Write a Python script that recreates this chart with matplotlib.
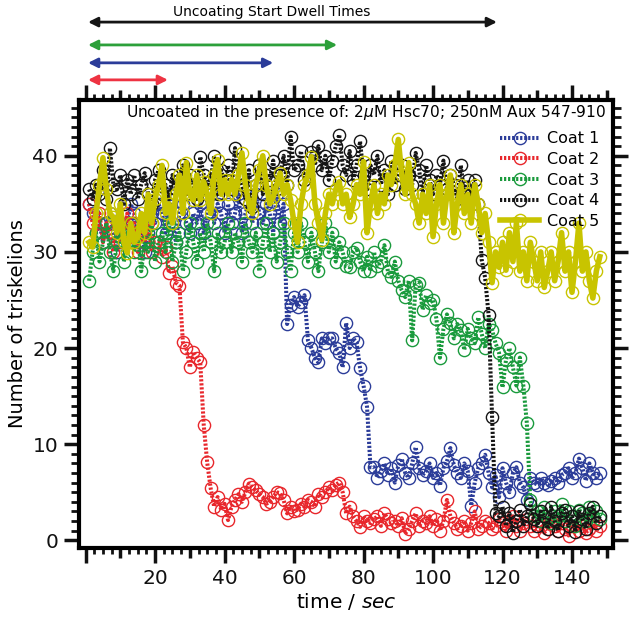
import matplotlib
matplotlib.use("Agg")
import numpy as np
import matplotlib.pyplot as plt
from matplotlib.ticker import MultipleLocator, FuncFormatter

# ---- data (1 s frames) ----
time_s = np.arange(1, 149)

coat1 = [35, 34, 32, 33, 31, 33, 34, 32, 30, 33,
         31, 33, 35, 34, 32, 33, 30, 32, 34, 33,
         35, 34, 32, 36, 33, 31, 34, 35, 33, 32,
         34, 33, 35, 32, 34, 36, 33, 35, 34, 32,
         35, 33, 34, 36, 32, 34, 35, 33, 36, 34,
         33, 35, 34, 32, 36, 33, 35,
         22.5, 24.5, 25.3, 24.3, 24.8, 25.5,
         20.8, 20, 19, 18.5, 21, 20.5, 21, 21, 20, 19.5,
         18, 22.6, 20, 21, 20.6, 17.9, 16.1, 13.9, 7.6,
         7.6, 6.5, 7.2, 8, 6.8, 7.5, 6, 7.8, 8.5, 7,
         6.5, 8, 9.7, 7.5, 6.8, 7.2, 8, 6.5, 7, 5.7,
         7.5, 8.2, 9.6, 7.8, 7, 6.5, 8, 7.2, 3.6, 6,
         7.5, 8, 8.9, 7, 5.5, 6.8, 4.5, 7.5, 6, 5,
         7, 7.6, 6, 5.5, 4.2, 6.5, 6, 5.8, 6.5, 6,
         5.8, 6.2, 6.5, 6, 6.8, 7, 7.5, 6.5, 7, 8.5,
         7.5, 6.2, 8, 7, 6.5, 7]

coat2 = [35, 33, 32, 34, 31, 33, 32, 30, 33, 31,
         32, 34, 31, 33, 30, 32, 31, 33, 30, 31,
         31, 29.5, 30.5, 27.8, 28.5, 26.8, 26.5,
         20.6, 20, 18, 19.6, 19, 18.5, 12, 8.1, 5.4, 3.5,
         4.5, 3.2, 3.8, 2.1, 3.5, 4.2, 4.8, 4, 5, 5.9,
         5.5, 5.2, 4.8, 4.5, 3.8, 4, 4.5, 5, 4.9, 4.2,
         2.8, 3.5, 3, 3.2, 3.8, 3.5, 4.2, 4, 3.5, 4.8,
         4.5, 5, 5.5, 5.2, 5.8, 6, 5, 2.8, 3.5, 2.5,
         2, 1.4, 2.5, 2, 1.8, 2.2, 2.5, 1.5, 2.8, 2.2,
         1.8, 2, 1.5, 2.3, 0.7, 1.2, 2, 2.8, 1.5, 2,
         1.8, 2.5, 1.5, 2.2, 1, 2, 4.2, 2.5, 1.8, 1.2,
         1.5, 2, 1, 1.8, 3, 1.2, 1.5, 2, 1.8, 1.2,
         1.5, 2.2, 1.8, 1, 2, 2.5, 1.5, 1, 1.8, 2.2,
         1.5, 1, 2, 1.5, 0.8, 1.2, 2, 1.5, 1, 1.8,
         1.2, 0.5, 1.5, 2, 1, 1.5, 0.8, 1.2, 2, 1, 1.5]

coat3 = [27, 30, 32, 29, 31, 33, 30, 28, 31, 32,
         29, 31, 33, 30, 32, 28, 31, 30, 33, 29,
         31, 32, 30, 33, 29, 31, 32, 28, 30, 33,
         31, 29, 32, 30, 33, 31, 28, 32, 30, 31,
         33, 30, 32, 31, 29, 33, 31, 30, 32, 28,
         31, 33, 30, 32, 29, 31, 33, 30, 28, 32,
         30, 33, 31, 29, 32, 30, 28, 31, 33, 30,
         32, 29, 31, 30, 28.5, 28.4, 30, 30.4, 29, 28,
         29.5, 28, 30, 28.5, 29, 30.7, 28, 27.4, 29, 27,
         26, 25.3, 27, 20.8, 26.6, 26.8, 24, 25.5, 24.7, 25,
         23, 19, 22, 23.5, 22.6, 21, 22.5, 21.9, 19.8, 22,
         21, 20.5, 23.2, 21.5, 20, 22.5, 21.9, 20.5, 19.5, 15.9,
         18.75, 20, 18, 16.1, 19, 16.1, 12.2,
         4.2, 2.5, 3, 2, 3.5, 2.2, 1.8, 3, 2.5, 3.8,
         2, 3, 2.5, 1.5, 3.2, 2.8, 2, 3.5, 2.5, 3, 2.2]

coat4 = [36.5, 35.5, 37, 36, 38.5, 35.5, 40.8, 37, 36.5, 38,
         35, 37.5, 36, 38, 35.5, 37, 38.2, 36, 35, 37.5,
         38.5, 36, 37, 35.5, 38, 36.5, 37.5, 39, 36, 38,
         37, 35.5, 39.9, 38, 36.5, 37.5, 40, 36, 38.5, 37,
         39, 36.5, 40.8, 38, 37, 35.5, 38.5, 34.7, 37, 39,
         36, 38, 37.5, 39.5, 36.5, 38, 40, 37, 42, 38.5,
         39, 40.5, 37.5, 38, 40.4, 39, 41, 38.5, 40, 37.5,
         39.5, 41, 42.2, 39, 38, 40.5, 37.5, 39, 41.5, 38,
         36.5, 39, 38, 40, 37, 38.5, 36, 39.5, 37, 38,
         39, 36.5, 38, 37, 40.3, 38.5, 36, 39, 37.5, 36,
         38, 37, 39.5, 36.5, 38, 37, 35.5, 39, 36, 37.5,
         36, 37.5, 35, 29.2, 27.3, 23.4, 12.8, 2.8,
         2.5, 3.5, 1.5, 2.8, 0.8, 2, 3.2, 1.5, 2.5, 3.8,
         2.2, 1.5, 3, 2.5, 1.2, 3.5, 2, 1, 2.8, 3.2,
         1.5, 2.5, 0.9, 3, 2.2, 1.2, 2.8, 3.5, 1.8, 2.5]

coat5 = [31, 30.5, 34, 37, 39.8, 36.5, 34, 33.6, 32, 35,
         31, 29.9, 33, 31, 31.6, 34, 32, 36, 33, 35.5,
         37, 39, 34, 35, 33, 36, 38, 34, 39.3, 36,
         35.4, 38, 35.4, 37.3, 36, 34, 38, 39.6, 36, 37.5,
         36, 37.5, 36, 38, 40.3, 37, 35, 34, 37, 38.5,
         40, 37, 35, 35.7, 37, 38.2, 36, 37, 35.4, 33,
         31, 35, 37, 38, 39.9, 35, 33, 31.25, 34, 36,
         35, 36.5, 37.3, 35, 36, 33.6, 35, 37, 36, 39.4,
         32, 35, 37, 34, 36, 35, 38, 37, 39, 41.7,
         38, 36, 39.3, 36, 35, 33, 36, 34, 37, 31.6,
         35, 37, 33, 36, 38, 32, 35, 37, 34, 36,
         33, 37, 35, 32, 34, 31, 26.8, 30, 28.4, 31,
         28.1, 32, 29, 33, 28, 30, 27, 31, 29, 27,
         30, 26.3, 28, 30, 27, 29, 32, 28, 30, 25.8,
         29, 33, 28, 30, 27, 25.2, 28, 29.5]

series = [coat1, coat2, coat3, coat4]
labels = ["Coat 1", "Coat 2", "Coat 3", "Coat 4", "Coat 5"]
colors = ["#2b3c99", "#e8262b", "#199a3c", "#151515", "#c8c400"]

# dwell-time arrows above the plot (top to bottom: coat 4, 3, 1, 2)
dwell_start = 0.7
dwell_end = [118.4, 72.4, 54.0, 23.7]
dwell_colors = ["#151515", "#2ca03a", "#2b3c99", "#ee3342"]

plt.rcParams['font.family'] = ['DejaVu Sans']

fig = plt.figure(figsize=(6.3, 6.19), dpi=100)
ax = fig.add_axes([0.1254, 0.1147, 0.8476, 0.7237])

for vals, lab, col in zip(series, labels[:4], colors[:4]):
    ax.plot(time_s, vals, color=col, lw=2.9, ls=(0, (0.55, 0.45)),
            dash_capstyle='butt', marker='o', ms=8.8, mfc='none',
            mec=col, mew=1.0, label=lab)
ax.plot(time_s, coat5, color=colors[4], lw=4, marker='o', ms=8.8,
        mfc='none', mec=colors[4], mew=1.0, label=labels[4])

ax.set_xlim(-1.9, 151.8)
ax.set_ylim(-0.8, 45.8)

ax.xaxis.set_major_locator(MultipleLocator(10))
ax.xaxis.set_minor_locator(MultipleLocator(2.5))
ax.xaxis.set_major_formatter(FuncFormatter(
    lambda v, p: "%d" % v if (v > 0 and int(round(v)) % 20 == 0) else ""))
ax.yaxis.set_major_locator(MultipleLocator(10))
ax.yaxis.set_minor_locator(MultipleLocator(1))

for sp in ax.spines.values():
    sp.set_linewidth(3)

ax.tick_params(which='both', direction='out', top=True, right=True,
               labelsize=14.5, colors='#111111')
ax.tick_params(axis='x', which='major', length=7, width=2.5, pad=8)
ax.tick_params(axis='x', which='minor', length=4, width=2)
ax.tick_params(axis='y', which='major', length=11, width=2.5, pad=4)
ax.tick_params(axis='y', which='minor', length=6, width=2)

fig.canvas.draw()
# longer ticks at the labelled multiples of 20
for t, v in zip(ax.xaxis.get_major_ticks(), ax.xaxis.get_majorticklocs()):
    if int(round(v)) % 20 == 0:
        t.tick1line.set_markersize(11)
        t.tick2line.set_markersize(11)

ax.set_xlabel(r"time / $\it{sec}$", fontsize=14.5, labelpad=2)
ax.set_ylabel("Number of triskelions", fontsize=14, labelpad=4)

ax.text(0.987, 0.972, r"Uncoated in the presence of: 2$\mu$M Hsc70; 250nM Aux 547-910",
        transform=ax.transAxes, ha='right', va='center', fontsize=11.1)

leg = ax.legend(loc='upper right', bbox_to_anchor=(0.995, 0.955), frameon=False,
                fontsize=11.5, handlelength=2.4, handletextpad=0.5,
                labelspacing=0.35, borderpad=0.2)

# dwell-time arrows
trans = ax.get_xaxis_transform()
arrow_levels = [1.174, 1.123, 1.083, 1.045]
for xe, yl, col in zip(dwell_end, arrow_levels, dwell_colors):
    ax.annotate("", xy=(xe, yl), xytext=(dwell_start, yl), xycoords=trans,
                textcoords=trans, annotation_clip=False,
                arrowprops=dict(arrowstyle='<|-|>', color=col, lw=2,
                                mutation_scale=14, shrinkA=0, shrinkB=0))
ax.text(53.7, 1.196, "Uncoating Start Dwell Times", transform=trans,
        ha='center', va='center', fontsize=10)

fig.savefig("out.png", dpi=100)
